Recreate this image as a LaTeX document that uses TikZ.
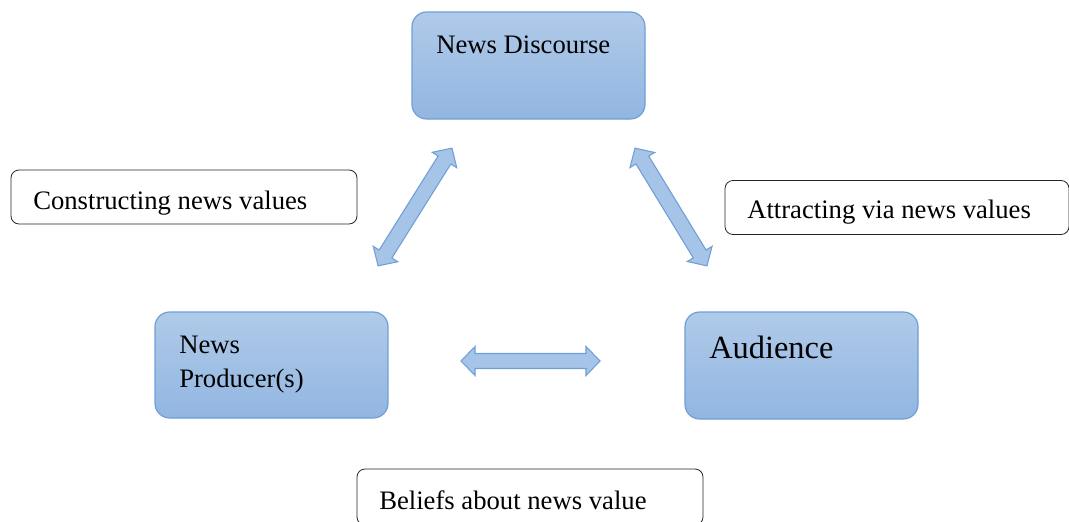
\documentclass[tikz,border=0pt]{standalone}
\usepackage{fontspec}
\setmainfont{Liberation Serif}
\definecolor{boxtop}{HTML}{B0CAE9}
\definecolor{boxbot}{HTML}{92B6E1}
\definecolor{boxline}{HTML}{6E9FD6}
\definecolor{arrfill}{HTML}{A6C3E8}
\tikzset{
  bluebox/.style={draw=boxline, line width=0.9pt, rounded corners=11pt,
    top color=boxtop, bottom color=boxbot, inner sep=0pt},
  labelbox/.style={draw=black!85, line width=0.6pt, rounded corners=6pt, fill=white, inner sep=0pt},
  txt/.style={anchor=base west, inner sep=0pt, font=\fontsize{20}{24}\selectfont},
  blockarrow/.style={draw=boxline, line width=0.8pt, fill=arrfill, line join=miter}
}
\newcommand{\dblarrow}[4]{% center x, center y, angle, length
  \begin{scope}[shift={(#1,#2)}, rotate=#3]
    \pgfmathsetmacro{\hl}{#4/2}
    \pgfmathsetmacro{\hb}{#4/2-14}
    \path[blockarrow] (-\hl,0) -- (-\hb,14.5) -- (-\hb,7.5) -- (\hb,7.5) -- (\hb,14.5) -- (\hl,0)
      -- (\hb,-14.5) -- (\hb,-7.5) -- (-\hb,-7.5) -- (-\hb,-14.5) -- cycle;
  \end{scope}}
\begin{document}
\begin{tikzpicture}[x=0.75pt,y=-0.75pt]
\useasboundingbox (0,0) rectangle (1069,521);
% main boxes
\node[bluebox, minimum width=174.75pt, minimum height=80.25pt] (disc) at (528.5,65.5) {};
\node[bluebox, minimum width=174.75pt, minimum height=79.5pt] (prod) at (271.5,365) {};
\node[bluebox, minimum width=174.75pt, minimum height=80.25pt] (aud) at (801.5,365.5) {};
\node[txt] (disct) at (436,53) {News Discourse};
\node[txt] (prodt1) at (179,353) {News};
\node[txt] (prodt2) at (179,387) {Producer(s)};
\node[txt, font=\fontsize{24.3}{28}\selectfont] (audt) at (709,358) {Audience};
% label boxes
\node[labelbox, minimum width=259.5pt, minimum height=40.5pt] (cons) at (184,197) {};
\node[labelbox, minimum width=258pt, minimum height=40.5pt] (attr) at (897,207.5) {};
\node[labelbox, minimum width=259.5pt, minimum height=42pt] (bel) at (530,497) {};
\node[txt] (const) at (33,209) {Constructing news values};
\node[txt] (attrt) at (747,218) {Attracting via news values};
\node[txt] (belt) at (379,509) {Beliefs about news value};
% arrows
\dblarrow{415}{207}{57.9}{139}
\dblarrow{671}{207}{-58.6}{138}
\dblarrow{530.5}{361}{0}{139}
\end{tikzpicture}
\end{document}
